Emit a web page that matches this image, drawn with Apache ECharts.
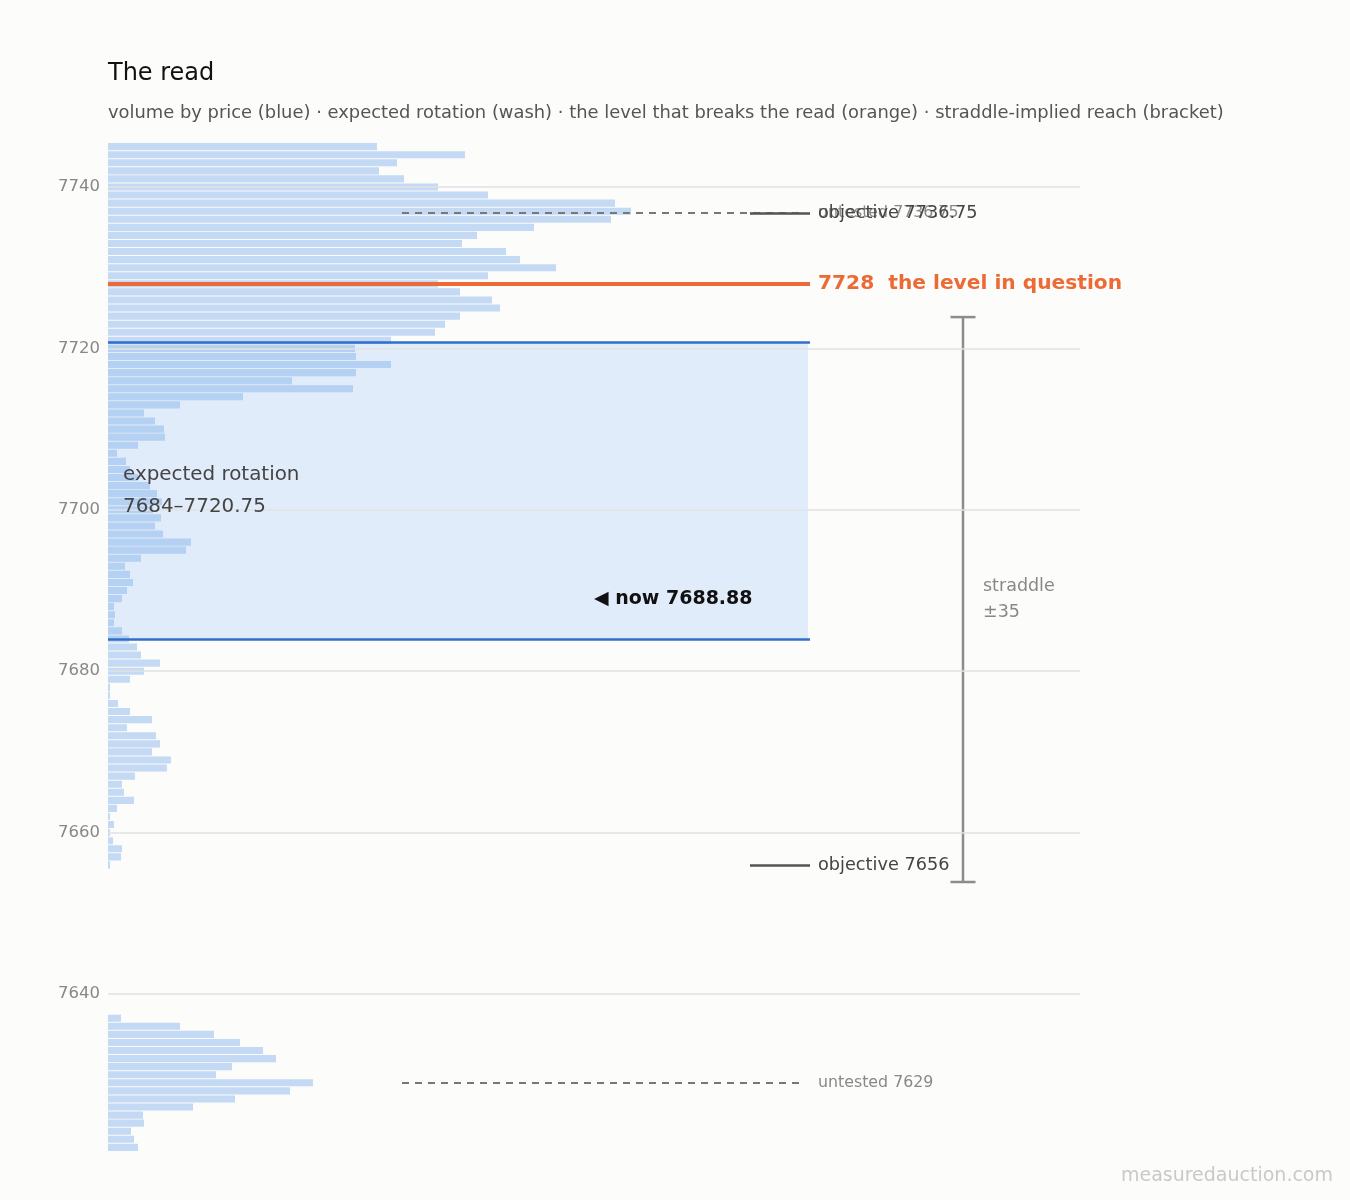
<!DOCTYPE html>
<html><head><meta charset="utf-8">
<script src="https://cdn.jsdelivr.net/npm/echarts@6/dist/echarts.min.js"></script>
<style>html,body{margin:0;padding:0;background:#FCFCFB;} #c{width:1350px;height:1200px;}</style>
</head><body><div id="c"></div>
<script>
// ---- data ----
const prices = [
  7745,7744,7743,7742,7741,7740,7739,7738,7737,7736,7735,7734,7733,7732,7731,7730,
  7729,7728,7727,7726,7725,7724,7723,7722,7721,7720,7719,7718,7717,7716,7715,7714,
  7713,7712,7711,7710,7709,7708,7707,7706,7705,7704,7703,7702,7701,7700,7699,7698,
  7697,7696,7695,7694,7693,7692,7691,7690,7689,7688,7687,7686,7685,7684,7683,7682,
  7681,7680,7679,7678,7677,7676,7675,7674,7673,7672,7671,7670,7669,7668,7667,7666,
  7665,7664,7663,7662,7661,7660,7659,7658,7657,7656,
  7637,7636,7635,7634,7633,7632,7631,7630,7629,7628,7627,7626,7625,7624,7623,7622,7621,7620
];
const volumes = [
  269,357,289,271,296,330,380,507,523,503,426,369,354,398,412,448,
  380,330,352,384,392,352,337,327,283,247,248,283,248,184,245,135,
  72,36,47,56,57,30,9,18,22,30,42,49,54,45,53,47,
  55,83,78,33,17,22,25,19,14,6,7,6,14,21,29,33,
  52,36,22,2,2,10,22,44,19,48,52,44,63,59,27,14,
  16,26,9,2,6,2,5,14,13,2,
  13,72,106,132,155,168,124,108,205,182,127,85,35,36,23,26,30,8
];
const yTicks = [7640, 7660, 7680, 7700, 7720, 7740];
const rotationLow = 7684;
const rotationHigh = 7720.75;
const keyLevel = 7728;
const nowPrice = 7688.88;
const straddleReach = 35;
const objectiveLevels = [7736.75, 7656];
const untestedLevels = [7736.75, 7629];

// ---- layout (x in volume-axis units) ----
const X_END = 702, WASH_END = 700, OBJ_START = 642, UNT_START = 294, UNT_END = 697;
const LABEL_X = 710, NOW_X = 486, ROT_X = 15, BRACKET_X = 855, STRADDLE_X = 875;
const FONT = '"DejaVu Sans", "Noto Sans", sans-serif';

const chart = echarts.init(document.getElementById('c'), null, {renderer: 'canvas'});

const seg = (x0, x1, y, style) => [{coord: [x0, y], lineStyle: style}, {coord: [x1, y]}];

const gridLines = yTicks.map(v => ({yAxis: v}));

const annotLines = [];
untestedLevels.forEach(v => annotLines.push(seg(UNT_START, UNT_END, v, {color: '#777', width: 2, type: [7, 6]})));
objectiveLevels.forEach(v => annotLines.push(seg(OBJ_START, X_END, v, {color: '#555', width: 2.5, type: 'solid'})));
annotLines.push(seg(0, X_END, rotationHigh, {color: '#2F6FCB', width: 2.5, type: 'solid'}));
annotLines.push(seg(0, X_END, rotationLow, {color: '#2F6FCB', width: 2.5, type: 'solid'}));
annotLines.push(seg(0, X_END, keyLevel, {color: '#EC6A35', width: 4, type: 'solid'}));

const labelItems = [];
untestedLevels.forEach(v => labelItems.push({value: [LABEL_X, v], label: {formatter: 'untested ' + v, color: '#888', fontSize: 15.8}}));
objectiveLevels.forEach(v => labelItems.push({value: [LABEL_X, v], label: {formatter: 'objective ' + v, color: '#444', fontSize: 17.7}}));
labelItems.push({value: [LABEL_X, keyLevel], label: {formatter: keyLevel + '  the level in question', color: '#EC6A35', fontSize: 20.2, fontWeight: 'bold'}});
labelItems.push({value: [NOW_X, nowPrice], label: {formatter: '\u25C0 now ' + nowPrice, color: '#111', fontSize: 19, fontWeight: 'bold'}});
labelItems.push({value: [ROT_X, (rotationLow + rotationHigh) / 2], label: {formatter: 'expected rotation\n' + rotationLow + '\u2013' + rotationHigh, color: '#444', fontSize: 19.9, lineHeight: 32}});
labelItems.push({value: [STRADDLE_X, nowPrice], label: {formatter: 'straddle\n\u00B1' + straddleReach, color: '#888', fontSize: 17.5, lineHeight: 26}});

const option = {
  animation: false,
  backgroundColor: '#FCFCFB',
  textStyle: {fontFamily: FONT},
  grid: {left: 108, right: 270, top: 142.6, bottom: 48.6, containLabel: false},
  xAxis: {type: 'value', min: 0, max: 972, show: false},
  yAxis: {
    type: 'value', min: 7620.5, max: 7745.5, splitNumber: 6,
    axisLine: {show: false}, axisTick: {show: false}, splitLine: {show: false},
    axisLabel: {color: '#888', fontSize: 16.5, fontFamily: FONT, margin: 8, padding: [4, 0, 0, 0],
      formatter: v => (yTicks.indexOf(Math.round(v * 100) / 100) >= 0 ? String(v) : '')}
  },
  graphic: [
    {type: 'text', left: 108, top: 62, style: {text: 'The read', font: '24px ' + FONT, fill: '#111'}},
    {type: 'text', left: 108, top: 104, style: {text: 'volume by price (blue) \u00B7 expected rotation (wash) \u00B7 the level that breaks the read (orange) \u00B7 straddle-implied reach (bracket)', font: '17.9px ' + FONT, fill: '#555'}},
    {type: 'text', right: 17, top: 1167, style: {text: 'measuredauction.com', font: '19px ' + FONT, fill: '#C9C9C9'}}
  ],
  series: [
    {
      type: 'line', z: 1, data: [[0, 7700]], symbol: 'none', lineStyle: {opacity: 0}, silent: true,
      markLine: {silent: true, symbol: 'none', label: {show: false}, lineStyle: {color: '#E2E2E2', width: 1.5, type: 'solid'}, data: gridLines},
      markArea: {silent: true, itemStyle: {color: 'rgba(36,127,250,0.125)'}, label: {show: false},
        data: [[{coord: [0, rotationHigh]}, {coord: [WASH_END, rotationLow]}]]}
    },
    {
      type: 'custom', z: 2, clip: true, silent: true,
      encode: {x: 1, y: 0},
      data: prices.map((p, i) => [p, volumes[i]]),
      renderItem: (params, api) => {
        const p = api.value(0), v = api.value(1);
        const a = api.coord([0, p + 0.44]);
        const b = api.coord([v, p - 0.44]);
        return {type: 'rect', shape: {x: a[0], y: a[1], width: b[0] - a[0], height: b[1] - a[1]},
          style: {fill: 'rgba(120,170,230,0.42)'}};
      }
    },
    {
      type: 'line', z: 3, data: [[0, 7700]], symbol: 'none', lineStyle: {opacity: 0}, silent: true,
      markLine: {silent: true, symbol: 'none', label: {show: false}, data: annotLines}
    },
    {
      type: 'custom', z: 3, silent: true,
      data: [[nowPrice, straddleReach]],
      encode: {y: 0},
      renderItem: (params, api) => {
        const c = api.value(0), r = api.value(1);
        const t = api.coord([BRACKET_X, c + r]);
        const b = api.coord([BRACKET_X, c - r]);
        const st = {stroke: '#8C8C8C', lineWidth: 2.5};
        return {type: 'group', children: [
          {type: 'line', shape: {x1: t[0], y1: t[1], x2: b[0], y2: b[1]}, style: st},
          {type: 'line', shape: {x1: t[0] - 12.5, y1: t[1], x2: t[0] + 12.5, y2: t[1]}, style: st},
          {type: 'line', shape: {x1: b[0] - 12.5, y1: b[1], x2: b[0] + 12.5, y2: b[1]}, style: st}
        ]};
      }
    },
    {
      type: 'scatter', z: 5, symbolSize: 0, silent: true,
      itemStyle: {opacity: 1},
      data: labelItems,
      label: {show: true, opacity: 1, position: 'right', distance: 0, fontFamily: FONT, align: 'left', verticalAlign: 'middle'}
    }
  ]
};
chart.setOption(option);
</script></body></html>
